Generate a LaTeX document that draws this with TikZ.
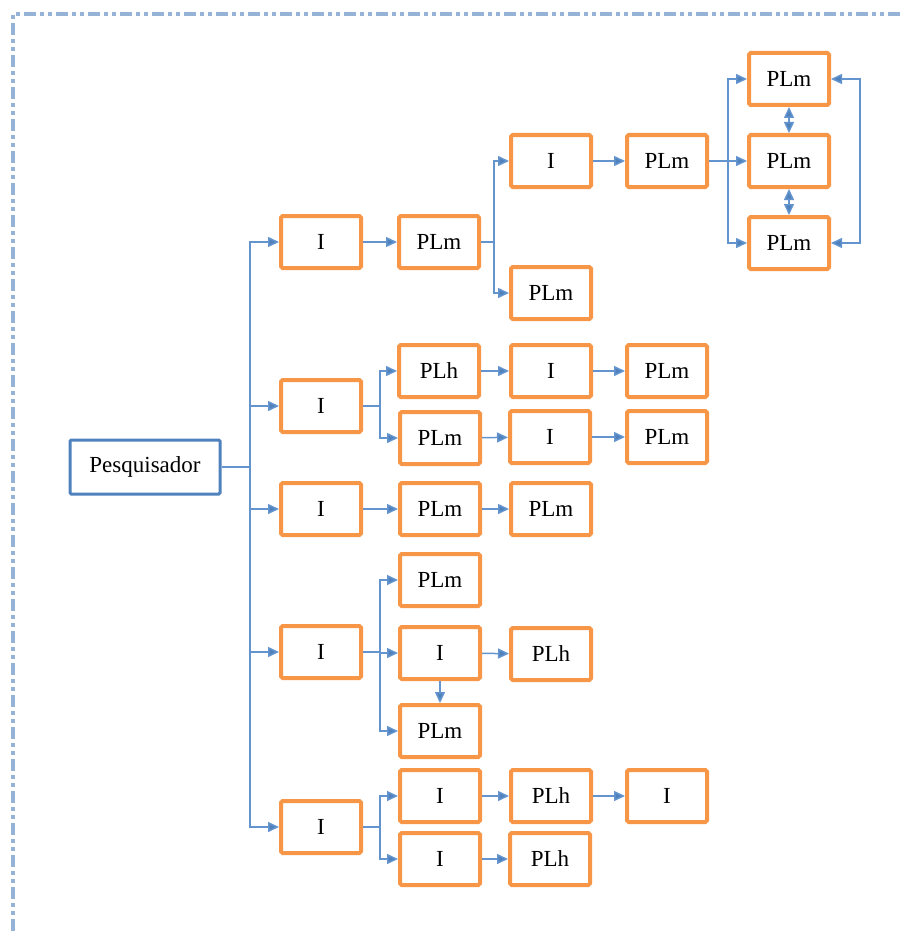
\documentclass[tikz,border=0pt]{standalone}
\usepackage{fontspec}
\setmainfont{Liberation Serif}
\usepackage{tikz}
\usetikzlibrary{arrows.meta,calc,positioning}
\definecolor{naranja}{RGB}{247,150,70}
\definecolor{azul}{RGB}{79,129,189}
\definecolor{azulLinea}{RGB}{100,148,205}
\definecolor{azulClaro}{RGB}{149,179,215}
\tikzstyle{caja}  =[rectangle, draw=naranja, line width=2pt,
                    rounded corners=0.8pt,
                    minimum width=40pt, minimum height=26pt,
                    inner sep=0pt, font=\fontsize{11.5}{13}\selectfont]
\tikzstyle{raiz}  =[rectangle, draw=azul, line width=1.5pt,
                    rounded corners=0.6pt,
                    minimum width=75pt, minimum height=27pt,
                    inner sep=0pt, font=\fontsize{11.5}{13}\selectfont]
\tikzstyle{edge}  =[draw=azulLinea, line width=0.75pt,
                    -{Triangle[length=5.5pt,width=5pt,fill=azul]}]
\tikzstyle{dedge} =[draw=azulLinea, line width=0.75pt,
                    {Triangle[length=5.5pt,width=5pt,fill=azul]}-{Triangle[length=5.5pt,width=5pt,fill=azul]}]
\tikzstyle{linea} =[draw=azulLinea, line width=0.75pt]
\tikzstyle{borde} =[draw=azulClaro, line width=1.6pt,
                    dash pattern=on 6pt off 2pt on 2pt off 2pt on 2pt off 2pt]

\begin{document}
\begin{tikzpicture}[x=0.5pt,y=-0.5pt]
    \useasboundingbox (0,0) rectangle (903,931);
    \draw[borde] (13,931) -- (13,14) -- (903,14);

    \node (pesq)[raiz] at (145,467) {Pesquisador};

    % primera columna
    \foreach \i/\y in {1/242,2/406,3/509,4/652,5/827}
        \node (i\i)[caja] at (321,\y) {I};

    % resto de cajas
    \foreach \n/\x/\y/\t in
        {a1/439/242/PLm, a2/551/161/I, a3/551/293/PLm, a4/667/161/PLm,
         a5/789/79/PLm, a6/789/161/PLm, a7/789/243/PLm,
         b1/439/371/PLh, b2/551/371/I, b3/667/371/PLm,
         b4/440/438/PLm, b5/550/437/I, b6/667/437/PLm,
         c1/440/509/PLm, c2/551/509/PLm,
         d1/440/580/PLm, d2/440/653/I, d3/440/731/PLm, d4/551/654/PLh,
         e1/440/796/I, e2/551/796/PLh, e3/667/796/I,
         e4/440/859/I, e5/550/859/PLh}
        \node (\n)[caja] at (\x,\y) {\t};

    % puntos de bifurcacion
    \coordinate (t) at (250,467);
    \coordinate (ba) at (494,242);
    \coordinate (bb) at (728,161);
    \coordinate (bc) at (380,406);
    \coordinate (bd) at (380,652);
    \coordinate (be) at (380,827);
    \coordinate (bf) at (860,161);

    \draw[linea] (pesq) -- (t);
    \foreach \i in {1,...,5}
        \draw[edge] (t) |- (i\i);

    \foreach \i/\j in {i1/a1,a2/a4,b1/b2,b2/b3,b4/b5,b5/b6,i3/c1,c1/c2,
                       d2/d4,e1/e2,e2/e3,e4/e5}
        \draw[edge] (\i) -- (\j);
    \draw[edge] (d2) -- (d3);

    \draw[linea] (a1) -- (ba);
    \foreach \j in {a2,a3}
        \draw[edge] (ba) |- (\j);
    \draw[linea] (a4) -- (bb);
    \foreach \j in {a5,a6,a7}
        \draw[edge] (bb) |- (\j);
    \draw[linea] (i2) -- (bc);
    \foreach \j in {b1,b4}
        \draw[edge] (bc) |- (\j);
    \draw[linea] (i4) -- (bd);
    \foreach \j in {d1,d2,d3}
        \draw[edge] (bd) |- (\j);
    \draw[linea] (i5) -- (be);
    \foreach \j in {e1,e4}
        \draw[edge] (be) |- (\j);

    \foreach \i/\j in {a5/a6,a6/a7}
        \draw[dedge] (\i) -- (\j);
    \draw[dedge] (a5.east) -| (bf) |- (a7.east);
\end{tikzpicture}
\end{document}
